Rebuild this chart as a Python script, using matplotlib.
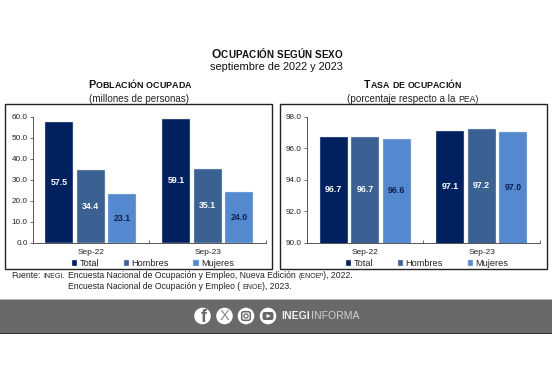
import matplotlib
matplotlib.use('Agg')
import matplotlib.pyplot as plt
from matplotlib.patches import Rectangle, Circle, FancyBboxPatch
import numpy as np

plt.rcParams['font.family'] = ['Liberation Sans', 'DejaVu Sans']

categories = ['Sep-22', 'Sep-23']
series_names = ['Total', 'Hombres', 'Mujeres']
poblacion_total = [57.5, 59.1]
poblacion_hombres = [34.4, 35.1]
poblacion_mujeres = [23.1, 24.0]
tasa_total = [96.7, 97.1]
tasa_hombres = [96.7, 97.2]
tasa_mujeres = [96.6, 97.0]
colors = ['#012060', '#3a6191', '#5488cf']
label_colors = ['white', 'white', '#0a1f50']
left_ticks = [0, 10, 20, 30, 40, 50, 60]
right_ticks = [90, 92, 94, 96, 98]

W, H = 552, 367
fig = plt.figure(figsize=(W/100, H/100), dpi=100, facecolor='white')
bg = fig.add_axes([0, 0, 1, 1])
bg.set_xlim(0, W); bg.set_ylim(H, 0); bg.axis('off')


def smallcaps(x, y, s, big=8.0, small=6.4, color='#111111', weight='bold'):
    """Centered small-caps text: lower-case letters drawn as smaller capitals."""
    r = fig.canvas.get_renderer()
    parts = []
    for ch in s:
        is_small = ch.islower()
        t = bg.text(0, y, ch.upper() if is_small else ch, fontsize=small if is_small else big,
                    fontweight=weight, color=color, ha='left', va='baseline')
        if ch == ' ':
            w = big * 0.28 * 100 / 72
        else:
            probe = bg.text(0, y, 'H' + t.get_text() + 'H', fontsize=t.get_fontsize(), fontweight=weight)
            probe2 = bg.text(0, y, 'HH', fontsize=t.get_fontsize(), fontweight=weight)
            w = probe.get_window_extent(r).width - probe2.get_window_extent(r).width
            probe.remove(); probe2.remove()
        parts.append((t, w))
    total = sum(p[1] for p in parts)
    cx = x - total / 2
    for t, w in parts:
        t.set_x(cx)
        cx += w


smallcaps(277, 58, 'Ocupación según sexo', big=8.6, small=7.1)
bg.text(276, 70.5, 'septiembre de 2022 y 2023', ha='center', va='baseline', fontsize=7.9, color='#111111')
smallcaps(139.5, 88, 'Población ocupada', big=7.8, small=6.4)
bg.text(139, 101.5, '(millones de personas)', ha='center', va='baseline', fontsize=7.1, color='#222222')
smallcaps(412.5, 88, 'Tasa de ocupación', big=7.6, small=6.3)
bg.text(347, 101.5, '(porcentaje respecto a la', ha='left', va='baseline', fontsize=7.1, color='#222222')
bg.text(458, 101.5, 'PEA)', ha='left', va='baseline', fontsize=6.2, color='#222222')

for x0, x1 in [(5, 272), (279.5, 547)]:
    bg.add_patch(Rectangle((x0, 104), x1 - x0, 165, fc='white', ec='#222222', lw=1.0))


def panel(px0, px1, vals, ylim, ticks):
    ax = fig.add_axes([px0 / W, 1 - 242.5 / H, (px1 - px0) / W, (242.5 - 116.7) / H])
    ax.patch.set_alpha(0)
    x = np.arange(len(categories))
    handles = []
    for i, v in enumerate(vals):
        b = ax.bar(x + (i - 1) * 0.27, v, width=0.24, color=colors[i], label=series_names[i],
                   edgecolor='#d5dde8', linewidth=0.3)
        handles.append(b)
        ax.bar_label(b, labels=[f'{a:.1f}' for a in v], label_type='center', color=label_colors[i],
                     fontsize=6.3, fontweight='bold')
    ax.set_xlim(-0.5, 1.5)
    ax.set_ylim(*ylim)
    ax.set_yticks(ticks, [f'{t:.1f}' for t in ticks], fontsize=5.9, color='#222222')
    ax.set_xticks([-0.5, 0.5, 1.5], ['', '', ''])
    ax.set_xticks([0, 1], categories, minor=True, fontsize=6.0, color='#222222')
    ax.tick_params(axis='x', which='minor', length=0, pad=4.5)
    ax.tick_params(axis='x', which='major', length=2, width=0.6, color='#555555', direction='in')
    ax.tick_params(axis='y', length=2, width=0.6, color='#555555', pad=1.5)
    for s in ['top', 'right']:
        ax.spines[s].set_visible(False)
    for s in ['left', 'bottom']:
        ax.spines[s].set_linewidth(0.7)
        ax.spines[s].set_color('#555555')
    ax.legend(handles=handles, loc='upper center', bbox_to_anchor=(0.516, -0.135), ncol=3, frameon=False,
              fontsize=6.6, handlelength=0.55, handleheight=0.55, handletextpad=0.25, columnspacing=2.7,
              borderpad=0, borderaxespad=0, labelcolor='#222222')
    return ax


panel(32.5, 266, [poblacion_total, poblacion_hombres, poblacion_mujeres], (0, 60), left_ticks)
panel(306.7, 540, [tasa_total, tasa_hombres, tasa_mujeres], (90, 98), right_ticks)

# source notes
fs, fsc = 6.25, 5.0
y1, y2 = 278.5, 289
bg.text(11, y1, 'Fuente:', fontsize=fs, color='#222222', va='baseline')
bg.text(43, y1, 'INEGI.', fontsize=fsc, color='#222222', va='baseline')
bg.text(67.7, y1, 'Encuesta Nacional de Ocupación y Empleo, Nueva Edición', fontsize=fs, color='#222222', va='baseline')
bg.text(298.7, y1, '(ENOE', fontsize=fsc, color='#222222', va='baseline')
bg.text(320.5, y1, 'ⁿ), 2022.', fontsize=fs, color='#222222', va='baseline')
bg.text(67.7, y2, 'Encuesta Nacional de Ocupación y Empleo (', fontsize=fs, color='#222222', va='baseline')
bg.text(242.5, y2, 'ENOE', fontsize=fsc, color='#222222', va='baseline')
bg.text(262.5, y2, '), 2023.', fontsize=fs, color='#222222', va='baseline')

# footer band
bg.add_patch(Rectangle((0, 299.5), W, 34, fc='#68696b', ec='none'))
bg.add_patch(Rectangle((0, 298.8), W, 1, fc='#b5b5b5', ec='none'))
bg.add_patch(Rectangle((0, 333), W, 1, fc='#333333', ec='none'))
for cx in [202.5, 224.5, 246, 268]:
    bg.add_patch(Circle((cx, 316), 8.3, fc='white', ec='none'))
bg.text(204, 317.5, 'f', fontsize=13, fontweight='bold', color='#68696b', ha='center', va='center')
bg.text(224.5, 316, 'X', fontsize=10.5, color='#8a8a8a', ha='center', va='center')
bg.add_patch(FancyBboxPatch((241.7, 311.7), 8.6, 8.6, boxstyle='round,pad=0,rounding_size=2', fc='none', ec='#68696b', lw=1.1))
bg.add_patch(Circle((246, 316), 2.1, fc='none', ec='#68696b', lw=0.9))
bg.add_patch(FancyBboxPatch((262.5, 312), 11, 8, boxstyle='round,pad=0,rounding_size=2', fc='#68696b', ec='none'))
bg.fill([266.5, 266.5, 270.8], [314, 318, 316], fc='white', ec='none')
bg.text(281.7, 316.3, 'INEGI', fontsize=7.6, fontweight='bold', color='#f0f0f0', va='center')
bg.text(311, 316.3, 'INFORMA', fontsize=7.6, color='#d0d0d0', va='center')

fig.savefig('out.png', dpi=100)
